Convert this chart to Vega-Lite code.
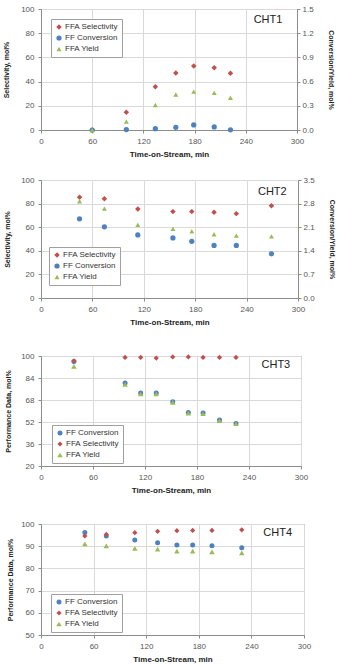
{
  "$schema": "https://vega.github.io/schema/vega-lite/v6.json",
  "padding": {"left": 2, "top": 4, "right": 1, "bottom": 1},
  "background": "white",
  "config": {
    "font": "Liberation Sans",
    "view": {"stroke": "#8c8c8c", "strokeWidth": 1},
    "axis": {"labelFontSize": 8, "labelColor": "#555555", "titleFontSize": 8, "titleFontWeight": "bold", "titleColor": "#222222", "domainColor": "#8c8c8c", "tickColor": "#8c8c8c", "tickSize": 3, "gridColor": "#d9d9d9", "labelPadding": 4, "labelOverlap": false, "labelFlush": false},
    "axisY": {"titleFontSize": 7, "titlePadding": 9},
    "axisX": {"titlePadding": 5},
    "legend": {"title": null, "labelFontSize": 8, "labelColor": "#333333", "strokeColor": "#a0a0a0", "fillColor": "white", "padding": 4, "rowPadding": 3, "labelOffset": 2, "symbolSize": 25, "symbolStrokeWidth": 0}
  },
  "datasets": {
    "p1": [
      {"t": 60, "series": "FFA Selectivity", "v": 0},
      {"t": 100, "series": "FFA Selectivity", "v": 14.7},
      {"t": 134, "series": "FFA Selectivity", "v": 35.8},
      {"t": 158, "series": "FFA Selectivity", "v": 47.2},
      {"t": 179, "series": "FFA Selectivity", "v": 52.8},
      {"t": 203, "series": "FFA Selectivity", "v": 51.4},
      {"t": 222, "series": "FFA Selectivity", "v": 46.9},
      {"t": 60, "series": "FF Conversion", "v": 0},
      {"t": 100, "series": "FF Conversion", "v": 0.005},
      {"t": 134, "series": "FF Conversion", "v": 0.017},
      {"t": 158, "series": "FF Conversion", "v": 0.033},
      {"t": 179, "series": "FF Conversion", "v": 0.063},
      {"t": 203, "series": "FF Conversion", "v": 0.0375},
      {"t": 222, "series": "FF Conversion", "v": 0.003},
      {"t": 60, "series": "FFA Yield", "v": 0},
      {"t": 100, "series": "FFA Yield", "v": 0.104},
      {"t": 134, "series": "FFA Yield", "v": 0.31},
      {"t": 158, "series": "FFA Yield", "v": 0.44},
      {"t": 179, "series": "FFA Yield", "v": 0.475},
      {"t": 203, "series": "FFA Yield", "v": 0.46},
      {"t": 222, "series": "FFA Yield", "v": 0.40}
    ],
    "p2": [
      {"t": 45, "series": "FFA Selectivity", "v": 85.3},
      {"t": 74, "series": "FFA Selectivity", "v": 84.2},
      {"t": 113, "series": "FFA Selectivity", "v": 75.4},
      {"t": 154, "series": "FFA Selectivity", "v": 73.2},
      {"t": 176, "series": "FFA Selectivity", "v": 73.2},
      {"t": 202, "series": "FFA Selectivity", "v": 72.6},
      {"t": 228, "series": "FFA Selectivity", "v": 71.5},
      {"t": 269, "series": "FFA Selectivity", "v": 78.2},
      {"t": 45, "series": "FF Conversion", "v": 2.35},
      {"t": 74, "series": "FF Conversion", "v": 2.11},
      {"t": 113, "series": "FF Conversion", "v": 1.87},
      {"t": 154, "series": "FF Conversion", "v": 1.78},
      {"t": 176, "series": "FF Conversion", "v": 1.68},
      {"t": 202, "series": "FF Conversion", "v": 1.56},
      {"t": 228, "series": "FF Conversion", "v": 1.56},
      {"t": 269, "series": "FF Conversion", "v": 1.31},
      {"t": 45, "series": "FFA Yield", "v": 2.87},
      {"t": 74, "series": "FFA Yield", "v": 2.65},
      {"t": 113, "series": "FFA Yield", "v": 2.17},
      {"t": 154, "series": "FFA Yield", "v": 2.05},
      {"t": 176, "series": "FFA Yield", "v": 1.98},
      {"t": 202, "series": "FFA Yield", "v": 1.89},
      {"t": 228, "series": "FFA Yield", "v": 1.85},
      {"t": 269, "series": "FFA Yield", "v": 1.83}
    ],
    "p3": [
      {"t": 38, "series": "FF Conversion", "v": 96},
      {"t": 97, "series": "FF Conversion", "v": 80.4},
      {"t": 115, "series": "FF Conversion", "v": 73.1},
      {"t": 133, "series": "FF Conversion", "v": 73.1},
      {"t": 152, "series": "FF Conversion", "v": 66.8},
      {"t": 170, "series": "FF Conversion", "v": 59},
      {"t": 187, "series": "FF Conversion", "v": 58.5},
      {"t": 206, "series": "FF Conversion", "v": 53.5},
      {"t": 225, "series": "FF Conversion", "v": 51},
      {"t": 38, "series": "FFA Selectivity", "v": 96.4},
      {"t": 97, "series": "FFA Selectivity", "v": 99},
      {"t": 115, "series": "FFA Selectivity", "v": 99},
      {"t": 133, "series": "FFA Selectivity", "v": 98.5},
      {"t": 152, "series": "FFA Selectivity", "v": 99.3},
      {"t": 170, "series": "FFA Selectivity", "v": 99.3},
      {"t": 187, "series": "FFA Selectivity", "v": 99},
      {"t": 206, "series": "FFA Selectivity", "v": 99},
      {"t": 225, "series": "FFA Selectivity", "v": 99},
      {"t": 38, "series": "FFA Yield", "v": 92.5},
      {"t": 97, "series": "FFA Yield", "v": 79.4},
      {"t": 115, "series": "FFA Yield", "v": 72.4},
      {"t": 133, "series": "FFA Yield", "v": 72.4},
      {"t": 152, "series": "FFA Yield", "v": 66.3},
      {"t": 170, "series": "FFA Yield", "v": 58.5},
      {"t": 187, "series": "FFA Yield", "v": 58},
      {"t": 206, "series": "FFA Yield", "v": 53},
      {"t": 225, "series": "FFA Yield", "v": 50.8}
    ],
    "p4": [
      {"t": 50, "series": "FF Conversion", "v": 96.2},
      {"t": 74.5, "series": "FF Conversion", "v": 94.6},
      {"t": 107, "series": "FF Conversion", "v": 92.8},
      {"t": 133, "series": "FF Conversion", "v": 91.6},
      {"t": 155, "series": "FF Conversion", "v": 90.5},
      {"t": 173, "series": "FF Conversion", "v": 90.5},
      {"t": 195, "series": "FF Conversion", "v": 90.2},
      {"t": 229, "series": "FF Conversion", "v": 89.3},
      {"t": 50, "series": "FFA Selectivity", "v": 94.6},
      {"t": 74.5, "series": "FFA Selectivity", "v": 95.3},
      {"t": 107, "series": "FFA Selectivity", "v": 96.1},
      {"t": 133, "series": "FFA Selectivity", "v": 96.7},
      {"t": 155, "series": "FFA Selectivity", "v": 97},
      {"t": 173, "series": "FFA Selectivity", "v": 97.1},
      {"t": 195, "series": "FFA Selectivity", "v": 97.1},
      {"t": 229, "series": "FFA Selectivity", "v": 97.4},
      {"t": 50, "series": "FFA Yield", "v": 91},
      {"t": 74.5, "series": "FFA Yield", "v": 90.1},
      {"t": 107, "series": "FFA Yield", "v": 89},
      {"t": 133, "series": "FFA Yield", "v": 88.7},
      {"t": 155, "series": "FFA Yield", "v": 87.8},
      {"t": 173, "series": "FFA Yield", "v": 87.8},
      {"t": 195, "series": "FFA Yield", "v": 87.4},
      {"t": 229, "series": "FFA Yield", "v": 87}
    ],
    "labels": [
      {"panel": "1", "name": "CHT1", "t": 266, "v": 91},
      {"panel": "2", "name": "CHT2", "t": 270, "v": 90},
      {"panel": "3", "name": "CHT3", "t": 271, "v": 93.5},
      {"panel": "4", "name": "CHT4", "t": 270, "v": 96}
    ]
  },
  "resolve": {"scale": {"color": "independent", "shape": "independent", "size": "independent"}, "legend": {"color": "independent", "shape": "independent", "size": "independent"}},
  "spacing": 16,
  "vconcat": [
    {
      "width": 256, "height": 121,
      "resolve": {"scale": {"y": "independent"}},
      "layer": [
        {
          "encoding": {
            "x": {"field": "t", "type": "quantitative", "scale": {"domain": [0, 300]}, "axis": {"values": [0, 60, 120, 180, 240, 300], "labelOverlap": false, "title": "Time-on-Stream, min"}},
            "y": {"field": "v", "type": "quantitative", "scale": {"domain": [0, 100]}, "axis": {"values": [0, 20, 40, 60, 80, 100], "labelOverlap": false, "titlePadding": 11, "title": "Selectivity, mol%"}}
          },
          "layer": [
            {
              "data": {"name": "p1"},
              "transform": [{"filter": "datum.series === 'FFA Selectivity'"}],
              "mark": {"type": "point", "filled": true, "opacity": 1, "clip": false},
              "encoding": {
                "color": {"field": "series", "type": "nominal", "scale": {"domain": ["FFA Selectivity", "FF Conversion", "FFA Yield"], "range": ["#C0504D", "#4F81BD", "#9BBB59"]}, "legend": {"orient": "none", "legendX": 10, "legendY": 10}},
                "shape": {"field": "series", "type": "nominal", "scale": {"domain": ["FFA Selectivity", "FF Conversion", "FFA Yield"], "range": ["diamond", "circle", "triangle-up"]}, "legend": {"orient": "none", "legendX": 10, "legendY": 10}},
                "size": {"field": "series", "type": "nominal", "scale": {"domain": ["FFA Selectivity", "FF Conversion", "FFA Yield"], "range": [30, 25, 32]}, "legend": null}
              }
            },
            {
              "data": {"name": "labels"},
              "transform": [{"filter": "datum.panel === '1'"}],
              "mark": {"type": "text", "fontSize": 11, "color": "#222222", "align": "center", "baseline": "middle"},
              "encoding": {"text": {"field": "name"}}
            }
          ]
        },
        {
          "data": {"name": "p1"},
          "transform": [{"filter": "datum.series !== 'FFA Selectivity'"}],
          "mark": {"type": "point", "filled": true, "opacity": 1, "clip": false},
          "encoding": {
            "x": {"field": "t", "type": "quantitative"},
            "y": {"field": "v", "type": "quantitative", "scale": {"domain": [0, 1.5]}, "axis": {"orient": "right", "values": [0, 0.3, 0.6, 0.9, 1.2, 1.5], "format": ".1f", "grid": false, "labelOverlap": false, "labelPadding": 2, "titlePadding": 14, "title": "Conversion/Yield, mol%"}},
            "color": {"field": "series", "type": "nominal", "scale": {"domain": ["FFA Selectivity", "FF Conversion", "FFA Yield"], "range": ["#C0504D", "#4F81BD", "#9BBB59"]}, "legend": {"orient": "none", "legendX": 10, "legendY": 10}},
            "shape": {"field": "series", "type": "nominal", "scale": {"domain": ["FFA Selectivity", "FF Conversion", "FFA Yield"], "range": ["diamond", "circle", "triangle-up"]}, "legend": {"orient": "none", "legendX": 10, "legendY": 10}},
            "size": {"field": "series", "type": "nominal", "scale": {"domain": ["FFA Selectivity", "FF Conversion", "FFA Yield"], "range": [30, 25, 32]}, "legend": null}
          }
        }
      ]
    },
    {
      "spacing": 24,
      "resolve": {"scale": {"color": "independent", "shape": "independent", "size": "independent"}, "legend": {"color": "independent", "shape": "independent", "size": "independent"}},
      "vconcat": [
        {
          "width": 257, "height": 118,
          "resolve": {"scale": {"y": "independent"}},
          "layer": [
            {
              "encoding": {
                "x": {"field": "t", "type": "quantitative", "scale": {"domain": [0, 300]}, "axis": {"values": [0, 60, 120, 180, 240, 300], "labelOverlap": false, "title": "Time-on-Stream, min"}},
                "y": {"field": "v", "type": "quantitative", "scale": {"domain": [0, 100]}, "axis": {"values": [0, 20, 40, 60, 80, 100], "labelOverlap": false, "titlePadding": 10, "title": "Selectivity, mol%"}}
              },
              "layer": [
                {
                  "data": {"name": "p2"},
                  "transform": [{"filter": "datum.series === 'FFA Selectivity'"}],
                  "mark": {"type": "point", "filled": true, "opacity": 1, "clip": false},
                  "encoding": {
                    "color": {"field": "series", "type": "nominal", "scale": {"domain": ["FFA Selectivity", "FF Conversion", "FFA Yield"], "range": ["#C0504D", "#4F81BD", "#9BBB59"]}, "legend": {"orient": "none", "legendX": 8, "legendY": 67}},
                    "shape": {"field": "series", "type": "nominal", "scale": {"domain": ["FFA Selectivity", "FF Conversion", "FFA Yield"], "range": ["diamond", "circle", "triangle-up"]}, "legend": {"orient": "none", "legendX": 8, "legendY": 67}},
                    "size": {"field": "series", "type": "nominal", "scale": {"domain": ["FFA Selectivity", "FF Conversion", "FFA Yield"], "range": [30, 25, 32]}, "legend": null}
                  }
                },
                {
                  "data": {"name": "labels"},
                  "transform": [{"filter": "datum.panel === '2'"}],
                  "mark": {"type": "text", "fontSize": 11, "color": "#222222", "align": "center", "baseline": "middle"},
                  "encoding": {"text": {"field": "name"}}
                }
              ]
            },
            {
              "data": {"name": "p2"},
              "transform": [{"filter": "datum.series !== 'FFA Selectivity'"}],
              "mark": {"type": "point", "filled": true, "opacity": 1, "clip": false},
              "encoding": {
                "x": {"field": "t", "type": "quantitative"},
                "y": {"field": "v", "type": "quantitative", "scale": {"domain": [0, 3.5]}, "axis": {"orient": "right", "values": [0, 0.7, 1.4, 2.1, 2.8, 3.5], "format": ".1f", "grid": false, "labelOverlap": false, "labelPadding": 2, "titlePadding": 14, "title": "Conversion/Yield, mol%"}},
                "color": {"field": "series", "type": "nominal", "scale": {"domain": ["FFA Selectivity", "FF Conversion", "FFA Yield"], "range": ["#C0504D", "#4F81BD", "#9BBB59"]}, "legend": {"orient": "none", "legendX": 8, "legendY": 67}},
                "shape": {"field": "series", "type": "nominal", "scale": {"domain": ["FFA Selectivity", "FF Conversion", "FFA Yield"], "range": ["diamond", "circle", "triangle-up"]}, "legend": {"orient": "none", "legendX": 8, "legendY": 67}},
                "size": {"field": "series", "type": "nominal", "scale": {"domain": ["FFA Selectivity", "FF Conversion", "FFA Yield"], "range": [30, 25, 32]}, "legend": null}
              }
            }
          ]
        },
        {
          "width": 260, "height": 110,
          "encoding": {
            "x": {"field": "t", "type": "quantitative", "scale": {"domain": [0, 300]}, "axis": {"values": [0, 60, 120, 180, 240, 300], "labelOverlap": false, "title": "Time-on-Stream, min"}},
            "y": {"field": "v", "type": "quantitative", "scale": {"domain": [20, 100]}, "axis": {"values": [20, 36, 52, 68, 84, 100], "labelOverlap": false, "titlePadding": 9, "title": "Performance Data, mol%"}}
          },
          "layer": [
            {
              "data": {"name": "p3"},
              "mark": {"type": "point", "filled": true, "opacity": 1, "clip": false},
              "encoding": {
                "color": {"field": "series", "type": "nominal", "scale": {"domain": ["FF Conversion", "FFA Selectivity", "FFA Yield"], "range": ["#4F81BD", "#C0504D", "#9BBB59"]}, "legend": {"orient": "none", "legendX": 11, "legendY": 69}},
                "shape": {"field": "series", "type": "nominal", "scale": {"domain": ["FF Conversion", "FFA Selectivity", "FFA Yield"], "range": ["circle", "diamond", "triangle-up"]}, "legend": {"orient": "none", "legendX": 11, "legendY": 69}},
                "size": {"field": "series", "type": "nominal", "scale": {"domain": ["FF Conversion", "FFA Selectivity", "FFA Yield"], "range": [25, 30, 32]}, "legend": null}
              }
            },
            {
              "data": {"name": "labels"},
              "transform": [{"filter": "datum.panel === '3'"}],
              "mark": {"type": "text", "fontSize": 11, "color": "#222222", "align": "center", "baseline": "middle"},
              "encoding": {"text": {"field": "name"}}
            }
          ]
        },
        {
          "width": 263, "height": 111,
          "encoding": {
            "x": {"field": "t", "type": "quantitative", "scale": {"domain": [0, 300]}, "axis": {"values": [0, 60, 120, 180, 240, 300], "labelOverlap": false, "title": "Time-on-Stream, min"}},
            "y": {"field": "v", "type": "quantitative", "scale": {"domain": [50, 100]}, "axis": {"values": [50, 60, 70, 80, 90, 100], "labelOverlap": false, "titlePadding": 7.5, "title": "Performance Data, mol%"}}
          },
          "layer": [
            {
              "data": {"name": "p4"},
              "mark": {"type": "point", "filled": true, "opacity": 1, "clip": false},
              "encoding": {
                "color": {"field": "series", "type": "nominal", "scale": {"domain": ["FF Conversion", "FFA Selectivity", "FFA Yield"], "range": ["#4F81BD", "#C0504D", "#9BBB59"]}, "legend": {"orient": "none", "legendX": 10, "legendY": 70}},
                "shape": {"field": "series", "type": "nominal", "scale": {"domain": ["FF Conversion", "FFA Selectivity", "FFA Yield"], "range": ["circle", "diamond", "triangle-up"]}, "legend": {"orient": "none", "legendX": 10, "legendY": 70}},
                "size": {"field": "series", "type": "nominal", "scale": {"domain": ["FF Conversion", "FFA Selectivity", "FFA Yield"], "range": [25, 30, 32]}, "legend": null}
              }
            },
            {
              "data": {"name": "labels"},
              "transform": [{"filter": "datum.panel === '4'"}],
              "mark": {"type": "text", "fontSize": 11, "color": "#222222", "align": "center", "baseline": "middle"},
              "encoding": {"text": {"field": "name"}}
            }
          ]
        }
      ]
    }
  ]
}
